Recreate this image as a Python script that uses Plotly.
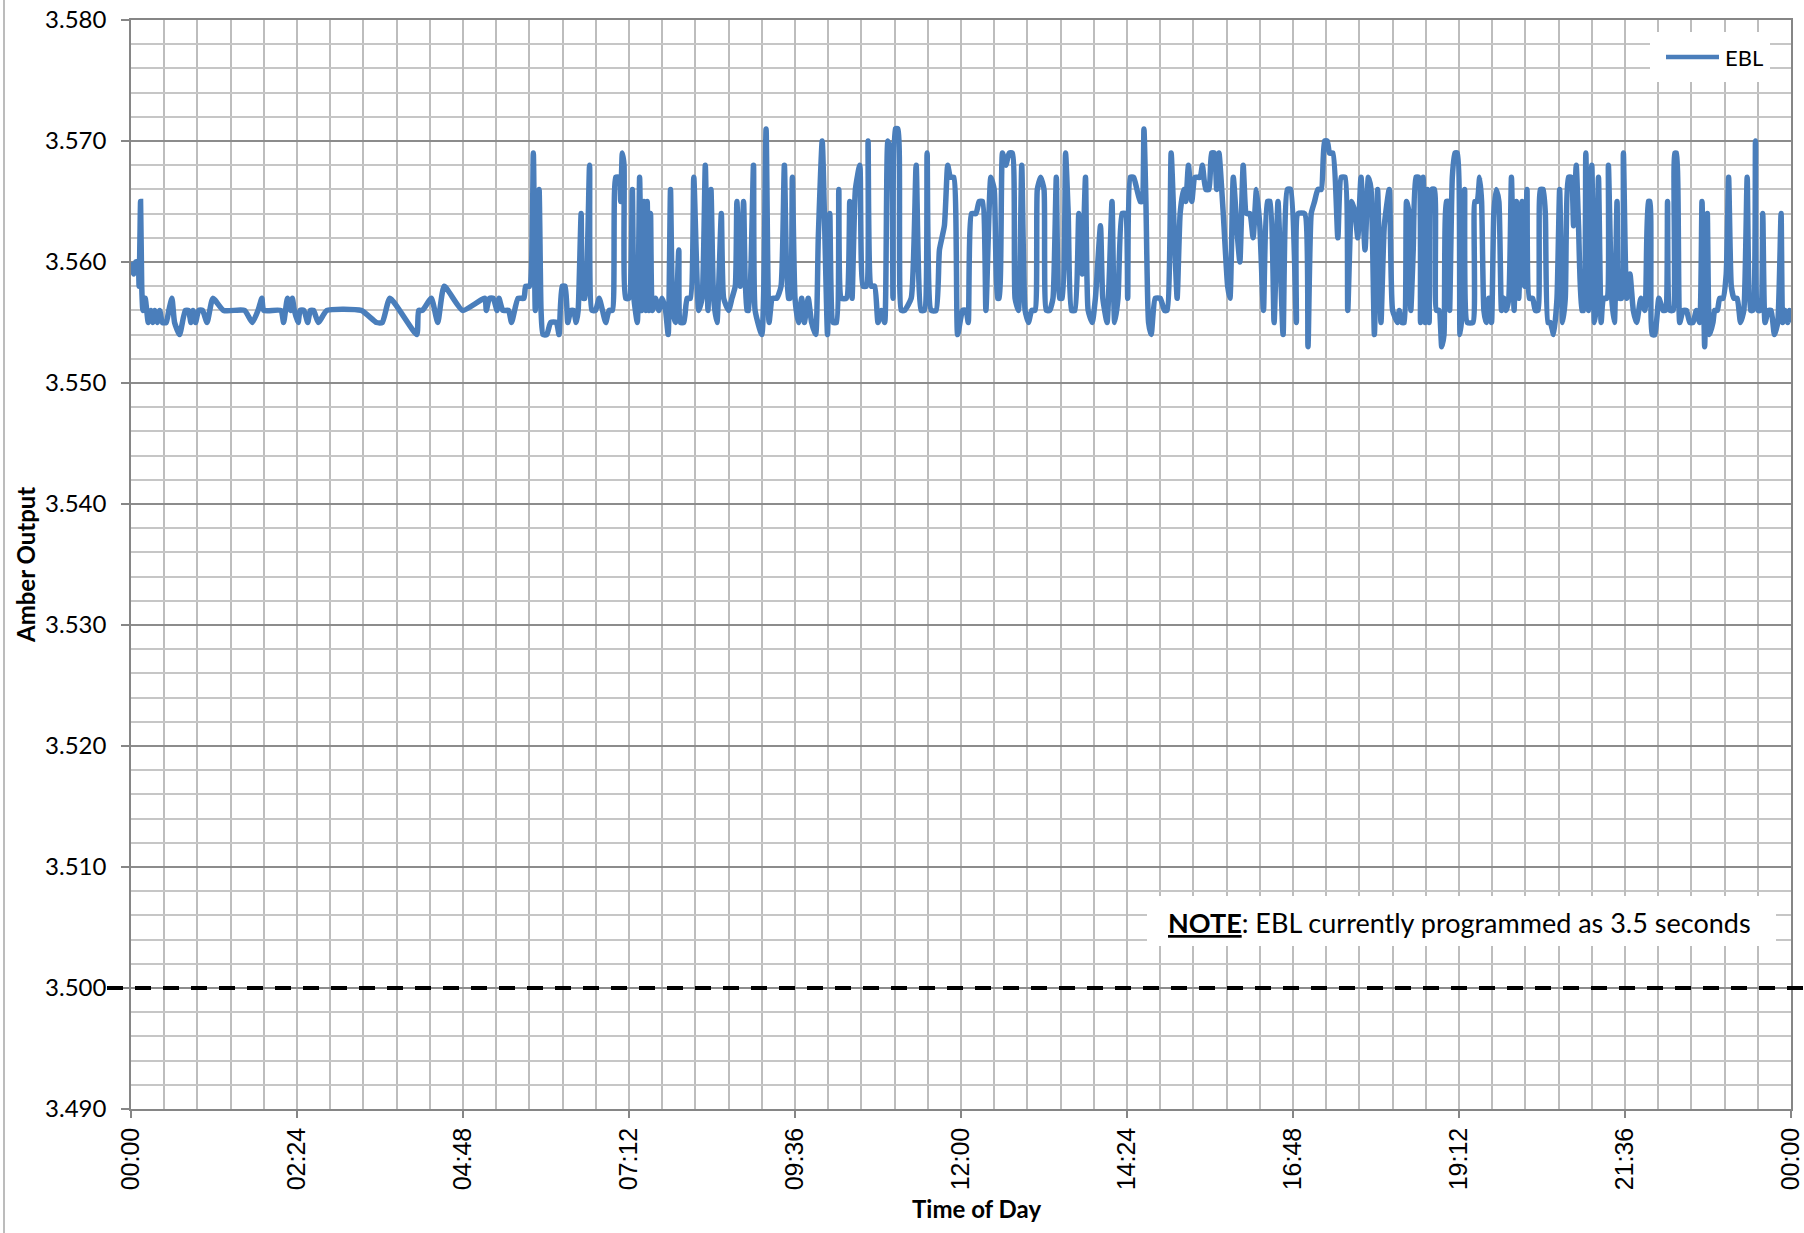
import pandas as pd
import plotly.graph_objects as go

# ---- data ----
minutes_of_day = [
    0, 2.3, 4.0, 6.0, 7.0, 8.3, 9.3, 10.3, 12.3, 15.0, 17.3, 19.0, 20.6, 22.9, 24.9, 27.2, 30.5, 32.8, 35.5, 37.8,
    42.1, 47.1, 49.8, 52.0, 53.8, 56.0, 58.7, 62.0, 66.0, 71.0, 80.3, 98.5, 105.2, 110.2, 113.5, 115.1, 130.0, 132.4,
    135.7, 138.4, 140.0, 141.7, 145.0, 146.7, 150.0, 153.3, 155.6, 158.3, 162.6, 169.9, 199.7, 213.0, 218.0, 224.6,
    247.9, 249.5, 252.8, 260.5, 266.1, 271.7, 287.7, 306.9, 308.2, 310.9, 314.2, 317.5, 319.2, 322.5, 327.5, 330.1,
    335.8, 340.8, 342.4, 345.7, 349.0, 350.7, 354.0, 355.7, 357.4, 360.7, 364.0, 369.0, 371.3, 374.0, 376.6, 378.9,
    381.6, 383.9, 386.2, 387.9, 390.5, 392.2, 393.8, 397.8, 399.8, 403.0,
    406.1, 409.0, 411.8, 414.7, 417.6, 420.5, 423.4, 424.8, 426.2, 427.7, 429.1, 432.0, 434.9, 436.3, 439.2, 441.2,
    443.0, 445.0, 446.4, 447.8, 449.3, 450.7, 452.2, 455.0, 457.9, 460.8, 463.7, 466.0, 468.0, 470.0, 472.3, 475.2,
    476.6, 479.5, 482.4, 485.3, 488.2, 492.5, 495.4, 498.2, 500.5, 503.1, 505.4, 508.3, 512.1, 514.1, 518.4, 521.3,
    524.2, 525.6, 528.5, 531.4, 534.2, 535.7, 540.0, 541.4, 547.2, 550.9, 553.5, 556.4, 560.2, 563.9, 566.8, 570.2,
    571.7, 573.7, 576.0, 578.9, 581.8, 584.1, 587.5, 590.4, 593.9, 596.2, 599.6, 604.2, 606.2, 609.1, 612.0, 614.0,
    616.3, 620.6, 623.5, 625.5, 628.4, 632.2, 635.0, 637.9, 639.4, 642.2, 645.1, 648.0, 650.9, 653.8, 656.6, 659.5,
    661.0, 663.0, 665.3, 668.2, 671.0, 676.8, 681.1, 685.4, 688.3, 690.6, 694.1, 698.4, 701.3, 705.6, 708.5, 710.8,
    713.7, 717.1, 721.4, 724.3, 726.3, 729.2, 733.0, 735.8, 738.7, 741.6, 745.9, 748.8, 751.7,
    753.1, 756.0, 758.9, 761.8, 764.6, 766.9, 769.8, 772.7, 775.6, 778.5, 781.3, 784.2, 786.2, 789.1, 792.0, 794.0,
    796.9, 799.8, 802.7, 805.5, 807.8, 810.7, 813.0, 815.9, 818.8, 822.2, 825.1, 828.0, 830.3, 833.8, 836.6, 841.0,
    843.0, 846.7, 848.7, 851.0, 853.3, 856.2, 859.7, 862.6, 864.6, 866.9, 869.8, 872.6, 875.5, 877.0, 878.7, 880.4,
    882.7, 885.0, 888.5, 892.8, 896.5, 898.8, 902.3, 905.2, 907.5, 910.1, 913.0, 915.0, 917.3, 920.2, 923.0, 927.4,
    929.4, 932.3, 935.1, 937.4, 939.7, 941.8, 943.8, 947.5, 951.3, 953.3, 956.2, 959.9, 961.9, 964.8, 967.7, 970.6,
    973.4, 976.3, 979.2, 982.4, 985.8, 988.1, 991.6, 995.0, 999.4, 1003.1, 1006.0, 1010.9, 1012.3, 1018.1, 1021.0,
    1023.8, 1026.7, 1029.6, 1032.5, 1035.4, 1037.7, 1039.7, 1042.6, 1046.9, 1049.8, 1053.2, 1055.5, 1059.0, 1061.9,
    1064.2, 1067.0, 1070.5, 1073.4, 1075.7, 1078.6, 1081.4, 1084.3, 1087.2, 1091.5, 1094.4, 1098.7,
    1100.2, 1102.5, 1104.5, 1106.5, 1108.8, 1110.2, 1112.3, 1114.6, 1116.9, 1118.6, 1120.9, 1122.6, 1124.6, 1126.1,
    1128.4, 1130.7, 1132.4, 1134.7, 1137.0, 1139.0, 1141.1, 1142.8, 1143.9, 1146.2, 1148.5, 1150.6, 1152.9, 1154.9,
    1156.9, 1159.2, 1164.1, 1165.8, 1167.8, 1169.9, 1171.6, 1173.6, 1175.6, 1177.9, 1180.2, 1182.2, 1184.3, 1186.6,
    1188.9, 1190.9, 1192.9, 1195.2, 1197.5, 1199.8, 1201.8, 1203.8, 1206.7, 1209.0, 1211.0, 1213.0, 1215.9, 1218.2,
    1220.5, 1222.6, 1224.9, 1226.9, 1229.2, 1231.2, 1234.1, 1237.0, 1239.3, 1241.9, 1244.2, 1247.0, 1249.3, 1251.4,
    1253.7, 1255.7, 1258.6, 1260.0, 1262.0, 1264.3, 1267.2, 1269.5, 1270.7, 1273.0, 1275.3, 1277.3, 1280.2, 1281.6,
    1284.5, 1286.8, 1289.1, 1291.1, 1293.1, 1294.6, 1297.4, 1300.3, 1303.2, 1306.1, 1309.8, 1313.3, 1316.2, 1317.6,
    1319.6, 1321.9, 1325.4, 1329.1, 1331.1, 1332.9, 1334.9, 1337.8, 1339.2, 1340.6, 1343.5, 1346.4, 1349.3, 1352.2,
    1355.0, 1357.9, 1360.8, 1362.8, 1365.1, 1367.4, 1369.4, 1372.3, 1373.8, 1376.1, 1378.1, 1381.0, 1383.8, 1385.9,
    1388.2, 1390.5, 1393.3, 1396.2, 1399.1, 1402.0, 1404.9, 1406.9, 1409.2, 1411.2, 1413.5, 1415.5, 1417.5, 1420.4,
    1422.7, 1425.6, 1428.5, 1431.4, 1432.8, 1434.8, 1437.1, 1438.6, 1439.6,
]

ebl_output = [
    3.560, 3.559, 3.560, 3.560, 3.558, 3.565, 3.558, 3.556, 3.557, 3.555, 3.556, 3.555, 3.556, 3.555, 3.556, 3.555, 3.555, 3.556, 3.557, 3.555,
    3.554, 3.556, 3.556, 3.555, 3.556, 3.555, 3.556, 3.556, 3.555, 3.557, 3.556, 3.556, 3.555, 3.556, 3.557, 3.556, 3.556, 3.555,
    3.557, 3.556, 3.557, 3.556, 3.555, 3.556, 3.556, 3.555, 3.556, 3.556, 3.555, 3.556, 3.556, 3.555, 3.555, 3.557,
    3.554, 3.556, 3.556, 3.557, 3.555, 3.558, 3.556, 3.557, 3.556, 3.557, 3.557, 3.556, 3.557, 3.556, 3.556, 3.555,
    3.557, 3.557, 3.558, 3.558, 3.569, 3.556, 3.566, 3.556, 3.554, 3.554, 3.555, 3.555, 3.554, 3.558, 3.558, 3.555,
    3.556, 3.556, 3.555, 3.556, 3.564, 3.557, 3.557, 3.568, 3.556, 3.556,
    3.557, 3.556, 3.555, 3.556, 3.556, 3.567, 3.567, 3.565, 3.569, 3.568, 3.557, 3.557, 3.566, 3.557, 3.555, 3.567,
    3.556, 3.565, 3.556, 3.565, 3.556, 3.564, 3.556, 3.557, 3.556, 3.557, 3.556, 3.554, 3.566, 3.556, 3.555, 3.561,
    3.555, 3.555, 3.557, 3.557, 3.567, 3.556, 3.557, 3.568, 3.556, 3.566, 3.557, 3.555, 3.564, 3.557, 3.556, 3.557,
    3.558, 3.565, 3.558, 3.565, 3.556, 3.556, 3.568, 3.556, 3.554, 3.571, 3.555, 3.557, 3.557, 3.558, 3.568, 3.557,
    3.557, 3.567, 3.557, 3.555, 3.557, 3.555, 3.557, 3.555, 3.554, 3.562, 3.570, 3.554, 3.564, 3.555, 3.555, 3.566,
    3.557, 3.557, 3.565, 3.557, 3.566, 3.568, 3.558, 3.558, 3.570, 3.558, 3.558, 3.555, 3.556, 3.555, 3.570, 3.569,
    3.557, 3.571, 3.571, 3.556, 3.556, 3.557, 3.568, 3.556, 3.556, 3.569, 3.556, 3.556, 3.561, 3.563, 3.568, 3.567,
    3.567, 3.554, 3.556, 3.556, 3.555, 3.564, 3.564, 3.565, 3.565, 3.556, 3.567, 3.566, 3.557,
    3.557, 3.569, 3.568, 3.569, 3.569, 3.557, 3.556, 3.568, 3.556, 3.555, 3.556, 3.556, 3.566, 3.567, 3.566, 3.556,
    3.556, 3.557, 3.567, 3.557, 3.557, 3.569, 3.564, 3.556, 3.556, 3.564, 3.559, 3.567, 3.556, 3.555, 3.557, 3.563,
    3.557, 3.555, 3.559, 3.565, 3.555, 3.557, 3.564, 3.564, 3.557, 3.567, 3.567, 3.566, 3.565, 3.565, 3.571, 3.565,
    3.555, 3.554, 3.557, 3.557, 3.556, 3.556, 3.569, 3.562, 3.557, 3.564, 3.566, 3.565, 3.568, 3.565, 3.567, 3.567,
    3.568, 3.566, 3.566, 3.569, 3.569, 3.566, 3.569, 3.564, 3.558, 3.557, 3.567, 3.562, 3.560, 3.568, 3.564, 3.564,
    3.562, 3.566, 3.563, 3.556, 3.565, 3.565, 3.555, 3.565, 3.554, 3.566, 3.566, 3.555, 3.564, 3.564, 3.553,
    3.564, 3.565, 3.566, 3.566, 3.570, 3.570, 3.569, 3.569, 3.562, 3.567, 3.567, 3.556, 3.565, 3.564,
    3.562, 3.567, 3.561, 3.567, 3.566, 3.554, 3.566, 3.555, 3.563, 3.566, 3.556, 3.555,
    3.556, 3.555, 3.555, 3.565, 3.564, 3.556, 3.561, 3.567, 3.567, 3.555, 3.567, 3.555, 3.566, 3.555,
    3.566, 3.566, 3.556, 3.556, 3.553, 3.554, 3.565, 3.565, 3.556, 3.567, 3.569, 3.569, 3.554, 3.556,
    3.566, 3.555, 3.555, 3.565, 3.565, 3.567, 3.565, 3.556, 3.555, 3.557, 3.555, 3.564, 3.566, 3.565,
    3.556, 3.557, 3.556, 3.557, 3.567, 3.556, 3.565, 3.557, 3.565, 3.558, 3.566, 3.557, 3.557, 3.556,
    3.556, 3.566, 3.566, 3.564, 3.555, 3.555, 3.554, 3.557, 3.566, 3.555, 3.557, 3.567, 3.567, 3.563,
    3.568, 3.563, 3.556, 3.556, 3.569, 3.556, 3.568, 3.555, 3.556, 3.567, 3.555, 3.557, 3.557, 3.568,
    3.557, 3.555, 3.565, 3.557, 3.557, 3.569, 3.557, 3.559, 3.556, 3.555, 3.557, 3.556, 3.565, 3.565,
    3.554, 3.554, 3.557, 3.556, 3.556, 3.565, 3.556, 3.556, 3.569, 3.569, 3.555, 3.556, 3.556, 3.555,
    3.555, 3.556, 3.555, 3.565, 3.553, 3.564, 3.554, 3.555, 3.556, 3.556, 3.557, 3.557, 3.559, 3.567,
    3.558, 3.557, 3.557, 3.555, 3.556, 3.567, 3.556, 3.556, 3.570, 3.556, 3.556, 3.564, 3.555, 3.556,
    3.556, 3.554, 3.555, 3.564, 3.555, 3.556, 3.555, 3.556, 3.555,
]

series_name = "EBL"
programmed_ebl = 3.5
y_range = [3.49, 3.58]
note_text = "<b><u>NOTE</u></b>: EBL currently programmed as 3.5 seconds"
x_title = "Time of Day"
y_title = "Amber Output"

base_day = pd.Timestamp("2024-01-01")
times = base_day + pd.to_timedelta(minutes_of_day, unit="min")

# ---- layout geometry (pixels) ----
W, H = 1804, 1233
L, R, T, B = 131, 1791, 20, 1109
pw, ph = R - L, B - T


def px(xp):
    return (xp - L) / pw


def py(yp):
    return 1 - (yp - T) / ph


LINE_COLOR = "#4a7ebb"

fig = go.Figure()
fig.add_trace(go.Scatter(
    x=times, y=ebl_output, mode="lines", name=series_name, showlegend=False,
    line=dict(color=LINE_COLOR, width=5.5, shape="spline", smoothing=0.5),
))

GRID = "#bdbdbd"
AX = "#868686"

fig.update_layout(
    width=W, height=H,
    margin=dict(l=L, r=W - R, t=T, b=H - B, pad=0, autoexpand=False),
    paper_bgcolor="white", plot_bgcolor="white",
    showlegend=False,
    xaxis=dict(
        type="date", automargin=False, ticklabeloverflow="allow",
        range=[base_day, base_day + pd.Timedelta(days=1)],
        tick0=base_day, dtick=8640000, tickformat="%H:%M",
        tickangle=-90, ticks="outside", ticklen=7, tickcolor=AX, tickwidth=1.5,
        ticklabelstandoff=0,
        tickfont=dict(family="Liberation Sans", size=25, color="black"),
        showline=True, linecolor=AX, linewidth=1.5, mirror=True,
        showgrid=True, gridcolor=GRID, gridwidth=1.5,
        minor=dict(tick0=base_day, dtick=1728000, showgrid=True, gridcolor=GRID, gridwidth=1.5, ticks=""),
        zeroline=False,
    ),
    yaxis=dict(
        automargin=False, ticklabeloverflow="allow",
        range=y_range, tick0=3.49, dtick=0.01, tickformat=".3f",
        ticks="outside", ticklen=8, tickcolor=AX, tickwidth=1.5,
        ticklabelstandoff=10,
        tickfont=dict(family="Lato", size=24, color="black"),
        showline=True, linecolor=AX, linewidth=1.5, mirror=True,
        showgrid=True, gridcolor="#8c8c8c", gridwidth=1.5,
        minor=dict(tick0=3.49, dtick=0.002, showgrid=True, gridcolor="#c6c6c6", gridwidth=1.5, ticks=""),
        zeroline=False,
    ),
)

# programmed EBL reference line
fig.add_shape(type="line", xref="paper", yref="y",
              x0=px(107), x1=px(W), y0=programmed_ebl, y1=programmed_ebl,
              line=dict(color="black", width=4, dash="16px,12px"))

# legend (drawn to match the original legend's long line sample)
fig.add_shape(type="rect", xref="paper", yref="paper",
              x0=px(1650), x1=px(1770), y0=py(82), y1=py(32),
              fillcolor="white", line=dict(width=0))
fig.add_shape(type="line", xref="paper", yref="paper",
              x0=px(1666), x1=px(1719), y0=py(57), y1=py(57),
              line=dict(color=LINE_COLOR, width=4.5))
fig.add_annotation(xref="paper", yref="paper", x=px(1723), y=py(57),
                   xanchor="left", yanchor="middle", showarrow=False,
                   text=series_name, font=dict(family="Lato", size=22, color="black"))

# note box
fig.add_shape(type="rect", xref="paper", yref="paper",
              x0=px(1147), x1=px(1776), y0=py(946), y1=py(896),
              fillcolor="white", line=dict(width=0))
fig.add_annotation(xref="paper", yref="paper", x=px(1166), y=py(922),
                   xanchor="left", yanchor="middle", showarrow=False,
                   text=note_text, font=dict(family="Lato", size=27, color="black"))

# chart area left border
fig.add_shape(type="line", xref="paper", yref="paper",
              x0=px(4), x1=px(4), y0=py(H), y1=py(0),
              line=dict(color="#a6a6a6", width=1.5))

# axis titles
fig.add_annotation(xref="paper", yref="paper", x=px(25), y=py(565),
                   xanchor="center", yanchor="middle", showarrow=False, textangle=-90,
                   text="<b>" + y_title + "</b>", font=dict(family="Lato", size=24, color="black"))
fig.add_annotation(xref="paper", yref="paper", x=px(977), y=py(1208),
                   xanchor="center", yanchor="middle", showarrow=False,
                   text="<b>" + x_title + "</b>", font=dict(family="Lato", size=24, color="black"))

fig.write_html("out.html",
               config={"displayModeBar": False},
               post_script="document.body.style.margin='0';document.body.style.overflow='hidden';")
